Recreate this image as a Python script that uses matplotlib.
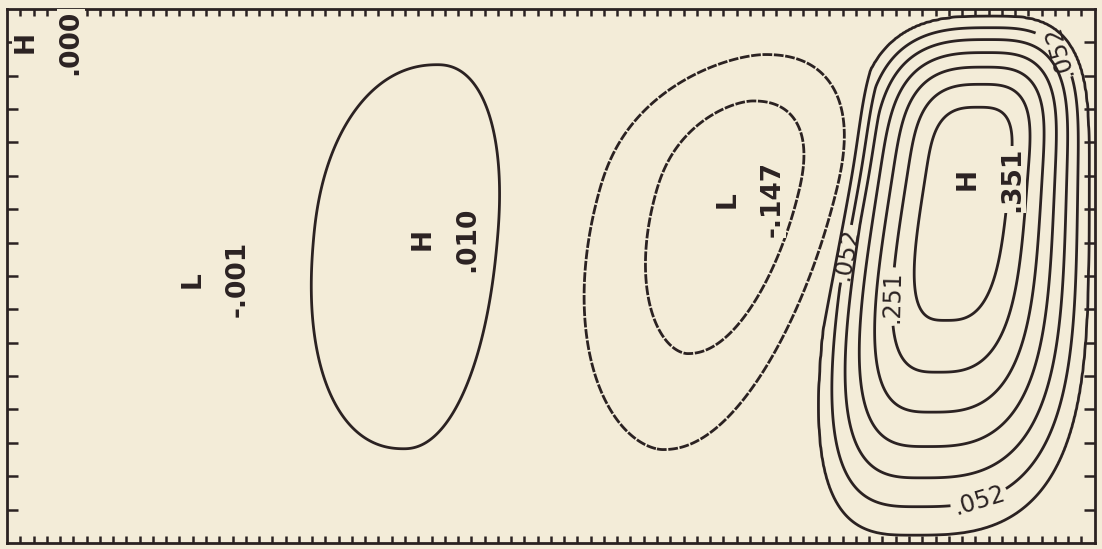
import numpy as np
import matplotlib.pyplot as plt

# extrema of the field: letter, value and where it sits (tick units)
kinds = ["H", "L", "H", "L", "H"]
values = [0.351, -0.147, 0.010, -0.001, 0.000]
value_text = [".351", "-.147", ".010", "-.001", ".000"]
cx = [72.4, 54.3, 31.3, 14.0, 1.4]
cy = [10.9, 10.3, 9.1, 7.9, 15.0]

# shape of each cell round its extremum
lean = [0.39, 0.65, 0.22, 0.0, 0.0]
half_left = [9.3, 14.0, 9.4, 8.0, 3.0]
half_right = [20.0, 10.5, 6.5, 8.0, 3.0]
half_down = [20.0, 10.1, 7.2, 6.0, 3.0]
half_up = [20.0, 5.6, 6.0, 6.0, 1.0]
bend_left = [1.0, 0.67, 1.0, 1.0, 1.0]
bend_right = [1.0, 0.9, 1.0, 1.0, 1.0]
bend_down = [1.15, 0.8, 1.0, 1.0, 1.0]
bend_up = [1.3, 1.0, 1.0, 1.0, 1.0]
roundness = [3.0, 2.5, 2.2, 2.0, 2.0]

levels = [-0.098, -0.048, 0.002, 0.052, 0.101, 0.151, 0.201, 0.251, 0.301]
label_levels = {0.052: ".052", 0.251: ".251"}
label_spots = [(62.8, 8.7), (67.8, 7.37), (73.5, 0.99), (80.0, 14.98)]

x_max, y_max = 82, 16
bg = "#f3ecd8"
ink = "#2b2222"


def field(X, Y):
    psi = np.zeros_like(X)
    for i in range(len(values)):
        xc = cx[i] + lean[i] * (Y - cy[i])
        u = X - xc
        hr = np.minimum(half_right[i], x_max - 0.4 - xc)
        tx = np.where(u > 0, (np.clip(u / hr, 0, None)) ** bend_right[i],
                      (np.clip(-u / half_left[i], 0, None)) ** bend_left[i])
        v = Y - cy[i]
        hu = min(half_up[i], y_max - 0.2 - cy[i])
        hd = min(half_down[i], cy[i] - 0.2)
        ty = np.where(v > 0, (np.clip(v / hu, 0, None)) ** bend_up[i],
                      (np.clip(-v / hd, 0, None)) ** bend_down[i])
        p = roundness[i]
        r = (tx ** p + ty ** p) ** (1 / p)
        psi += values[i] * np.cos(np.pi / 2 * np.clip(r, 0, 1))
    return psi


X, Y = np.meshgrid(np.linspace(0, x_max, 700), np.linspace(0, y_max, 300))
psi = field(X, Y)

fig = plt.figure(figsize=(11.02, 5.49), dpi=100, facecolor=bg)
ax = fig.add_axes([0.0064, 0.011, 0.987, 0.9726])
ax.set_facecolor(bg)

neg = [l for l in levels if l < 0]
plain = [l for l in levels if l > 0 and l not in label_levels]
ax.contour(X, Y, psi, levels=neg, colors=ink, linewidths=2.0,
           linestyles=[(0, (3.5, 0.6))])
ax.contour(X, Y, psi, levels=plain, colors=ink, linewidths=2.0,
           linestyles="solid")
cs = ax.contour(X, Y, psi, levels=list(label_levels), colors=ink,
                linewidths=2.0, linestyles="solid")
texts = ax.clabel(cs, fmt=label_levels, manual=label_spots,
                  inline=True, inline_spacing=3, fontsize=17, colors=ink)
# the corner label reads upward in the original plot
texts[-1].set_rotation(106)

blank = dict(facecolor=bg, edgecolor="none", pad=0.5)
for k, t, x, y in zip(kinds, value_text, cx, cy):
    ax.text(x, y, k, rotation=90, ha="center", va="center", fontsize=19,
            fontweight="bold", color=ink, bbox=blank, zorder=5)
    ax.text(x + 3.4, y, t, rotation=90, ha="center", va="center", fontsize=19,
            fontweight="bold", color=ink, bbox=blank, zorder=5)

ax.set_xlim(0, x_max)
ax.set_ylim(0, y_max)
ax.set_xticks(range(1, x_max))
ax.set_yticks(range(1, y_max))
ax.tick_params(axis="x", direction="in", length=5, width=1.8, color=ink,
               top=True, bottom=True, labelbottom=False)
ax.tick_params(axis="y", direction="in", length=8, width=1.8, color=ink,
               left=True, right=True, labelleft=False)
for s in ax.spines.values():
    s.set_linewidth(2.0)
    s.set_color(ink)

fig.savefig("out.png", dpi=100, facecolor=bg)
